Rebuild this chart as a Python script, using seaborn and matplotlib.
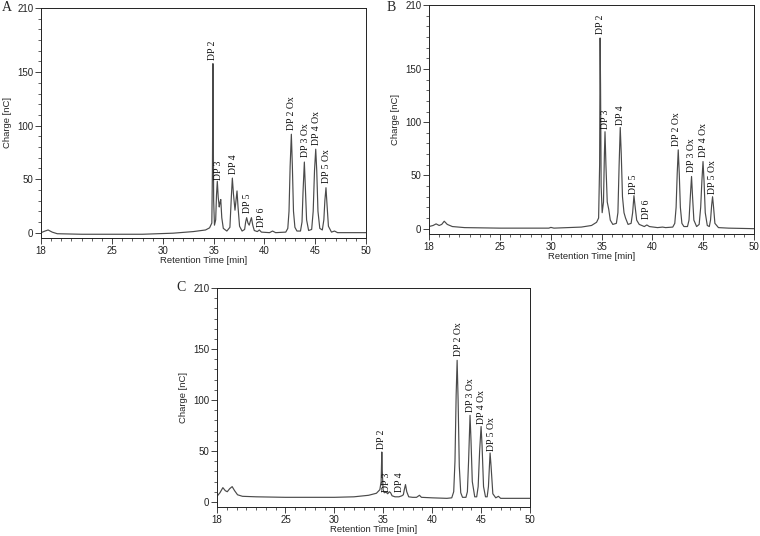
import matplotlib.pyplot as plt
import seaborn as sns
import pandas as pd
from matplotlib.ticker import MultipleLocator

sns.set_theme(style="ticks")
plt.rcParams['font.family'] = ['Liberation Sans', 'DejaVu Sans']

# chromatogram traces: (retention time [min], charge [nC])
trace_a = [
    (18.0, 0.0), (18.4, 1.5), (18.7, 2.5), (19.1, 0.5), (19.6, -1.0),
    (22.0, -1.5), (28.0, -1.5), (31.0, -0.5), (33.0, 1.0), (34.2, 2.5), (34.6, 4.5), (34.82, 9.0),
    (34.88, 60.0), (34.93, 158.0), (34.96, 100.0), (35.0, 30.0), (35.08, 7.0),
    (35.2, 12.0), (35.28, 35.0), (35.36, 48.0), (35.45, 33.0), (35.55, 24.0), (35.62, 28.0),
    (35.7, 31.0), (35.8, 14.0), (35.95, 4.0),
    (36.3, 1.5), (36.6, 5.0), (36.75, 35.0), (36.84, 51.0), (36.95, 36.0), (37.1, 21.0),
    (37.2, 30.0), (37.3, 39.0), (37.4, 24.0), (37.55, 6.0),
    (37.8, 1.5), (38.05, 3.0), (38.15, 10.0), (38.25, 14.0), (38.38, 9.0), (38.5, 7.0),
    (38.62, 11.0), (38.72, 14.0), (38.85, 7.0), (39.0, 2.0),
    (39.3, 1.0), (39.5, 2.5), (39.7, 0.5), (40.5, 0.0), (40.8, 1.5), (41.1, 0.0),
    (42.1, 0.5), (42.3, 4.0), (42.42, 20.0), (42.53, 62.0), (42.65, 92.0), (42.75, 62.0),
    (42.86, 20.0), (43.0, 5.0), (43.2, 1.5),
    (43.55, 1.5), (43.7, 10.0), (43.8, 38.0), (43.93, 66.0), (44.03, 42.0), (44.15, 12.0), (44.35, 2.0),
    (44.65, 3.0), (44.8, 20.0), (44.93, 58.0), (45.05, 78.0), (45.15, 58.0), (45.27, 20.0), (45.45, 4.0),
    (45.7, 2.5), (45.85, 12.0), (45.95, 30.0), (46.06, 42.0), (46.15, 28.0), (46.3, 6.0), (46.6, 0.5),
    (46.9, 1.5), (47.2, 0.0), (50.0, 0.0),
]

trace_b = [
    (18.0, 2.0), (18.4, 3.0), (18.7, 4.5), (19.0, 3.0), (19.25, 4.0), (19.5, 7.0), (19.8, 4.0),
    (20.3, 2.0), (21.5, 1.0), (25.0, 0.5), (29.8, 0.5), (30.0, 1.2), (30.3, 0.5),
    (33.0, 1.5), (34.0, 3.0), (34.5, 6.0), (34.7, 10.0),
    (34.8, 60.0), (34.85, 179.0), (34.89, 135.0), (34.95, 40.0), (35.05, 15.0),
    (35.18, 25.0), (35.27, 70.0), (35.33, 91.0), (35.42, 60.0), (35.55, 25.0), (35.7, 18.0),
    (35.85, 8.0), (36.1, 4.0),
    (36.45, 5.0), (36.6, 15.0), (36.72, 60.0), (36.83, 95.0), (36.93, 70.0), (37.05, 30.0),
    (37.2, 15.0), (37.35, 10.0), (37.6, 4.0),
    (37.9, 5.0), (38.05, 15.0), (38.18, 31.0), (38.28, 22.0), (38.45, 8.0), (38.7, 4.0),
    (39.2, 2.0), (39.45, 3.5), (39.7, 2.0), (40.5, 1.0), (41.0, 1.5), (41.3, 1.0),
    (42.0, 1.5), (42.2, 5.0), (42.33, 20.0), (42.44, 52.0), (42.54, 74.0), (42.64, 52.0),
    (42.75, 20.0), (42.9, 5.0), (43.1, 2.0),
    (43.45, 2.0), (43.6, 8.0), (43.73, 30.0), (43.85, 49.0), (43.95, 30.0), (44.08, 8.0), (44.35, 2.0),
    (44.6, 4.0), (44.75, 20.0), (44.87, 45.0), (44.98, 63.0), (45.08, 45.0), (45.2, 15.0), (45.4, 3.0),
    (45.6, 2.0), (45.72, 8.0), (45.83, 22.0), (45.92, 30.0), (46.02, 20.0), (46.15, 5.0), (46.5, 1.0),
    (47.5, 0.5), (50.0, 0.0),
]

trace_c = [
    (18.0, 5.5), (18.3, 9.0), (18.6, 14.0), (18.85, 11.0), (19.05, 10.0), (19.3, 13.0),
    (19.55, 15.0), (19.8, 11.0), (20.1, 7.0), (20.6, 5.5), (22.0, 5.0), (25.0, 4.5),
    (30.0, 4.5), (32.0, 5.0), (33.5, 6.5), (34.3, 8.5), (34.65, 12.0), (34.78, 20.0),
    (34.85, 49.0), (34.9, 30.0), (34.98, 12.0), (35.1, 9.0), (35.3, 9.5), (35.45, 8.0),
    (35.62, 10.0), (35.75, 9.0), (35.9, 6.0), (36.2, 5.0), (36.6, 5.0), (36.9, 6.0),
    (37.05, 7.0), (37.15, 12.0), (37.27, 17.0), (37.4, 10.0), (37.6, 5.0), (38.0, 4.5),
    (38.4, 4.5), (38.7, 6.5), (38.9, 4.5), (40.0, 4.0), (41.5, 3.5),
    (42.0, 4.0), (42.2, 10.0), (42.33, 40.0), (42.45, 105.0), (42.55, 139.0), (42.65, 100.0),
    (42.77, 35.0), (42.92, 9.0), (43.1, 4.5),
    (43.45, 4.5), (43.6, 10.0), (43.72, 40.0), (43.87, 85.0), (43.97, 60.0), (44.1, 20.0), (44.35, 5.0),
    (44.55, 5.0), (44.7, 15.0), (44.85, 50.0), (45.0, 74.0), (45.1, 55.0), (45.25, 15.0), (45.45, 5.0),
    (45.62, 5.0), (45.75, 15.0), (45.85, 35.0), (45.92, 48.0), (46.02, 35.0), (46.2, 8.0), (46.5, 4.0),
    (46.77, 5.5), (47.0, 3.5), (50.0, 3.5),
]

# peak labels: name, retention time, height of label foot
names_a = ["DP 2", "DP 3", "DP 4", "DP 5", "DP 6", "DP 2 Ox", "DP 3 Ox", "DP 4 Ox", "DP 5 Ox"]
label_t_a = [34.92, 35.46, 36.94, 38.38, 39.73, 42.71, 44.02, 45.14, 46.13]
label_y_a = [161, 49, 55, 18, 5, 96, 71, 82, 46]

names_b = ["DP 2", "DP 3", "DP 4", "DP 5", "DP 6", "DP 2 Ox", "DP 3 Ox", "DP 4 Ox", "DP 5 Ox"]
label_t_b = [34.85, 35.41, 36.83, 38.17, 39.45, 42.4, 43.87, 45.02, 45.94]
label_y_b = [183, 94, 97, 33, 9, 78, 53, 67, 33]

names_c = ["DP 2", "DP 3", "DP 4", "DP 2 Ox", "DP 3 Ox", "DP 4 Ox", "DP 5 Ox"]
label_t_c = [34.85, 35.36, 36.66, 42.68, 43.94, 45.06, 46.09]
label_y_c = [52, 10, 10, 143, 88, 76, 50]

x_ticks = [18, 25, 30, 35, 40, 45, 50]
y_ticks = [0, 50, 100, 150, 210]

fig = plt.figure(figsize=(7.6, 5.36), dpi=100)


def draw_panel(rect, letter, letter_xy, trace, names, label_t, label_y):
    ax = fig.add_axes(rect)
    df = pd.DataFrame(trace, columns=['time', 'charge'])
    sns.lineplot(data=df, x='time', y='charge', ax=ax, color='#4a4a4a',
                 linewidth=0.85, sort=False, estimator=None)
    ax.set_xlim(18, 50)
    ax.set_ylim(-5, 210)
    ax.set_xticks(x_ticks)
    ax.set_yticks(y_ticks)
    ax.xaxis.set_minor_locator(MultipleLocator(1))
    ax.yaxis.set_minor_locator(MultipleLocator(10))
    ax.tick_params(which='major', length=4, width=0.6, labelsize=7, pad=1.5, colors='#222222')
    ax.tick_params(which='minor', length=2, width=0.5, colors='#222222')
    for s in ax.spines.values():
        s.set_linewidth(0.7)
        s.set_color('#222222')
    ax.set_xlabel('Retention Time [min]', fontsize=6.8, labelpad=0)
    ax.set_ylabel('Charge [nC]', fontsize=6.8, labelpad=3.5)
    for name, t, y in zip(names, label_t, label_y):
        ax.text(t, y, name, rotation=90, ha='center', va='bottom',
                fontsize=7, family=['Liberation Serif', 'DejaVu Serif'], color='#111111')
    fig.text(letter_xy[0], letter_xy[1], letter, fontsize=10, va='top', ha='left',
             family=['Liberation Serif', 'DejaVu Serif'])
    return ax


draw_panel([41 / 760, 1 - 238 / 536, 325 / 760, 230 / 536], 'A', (0.002, 0.998),
           trace_a, names_a, label_t_a, label_y_a)
draw_panel([429 / 760, 1 - 234 / 536, 325 / 760, 229 / 536], 'B', (0.508, 0.998),
           trace_b, names_b, label_t_b, label_y_b)
draw_panel([217 / 760, 1 - 507 / 536, 313 / 760, 219 / 536], 'C', (0.232, 1 - 281 / 536),
           trace_c, names_c, label_t_c, label_y_c)

fig.savefig('out.png', dpi=100)
